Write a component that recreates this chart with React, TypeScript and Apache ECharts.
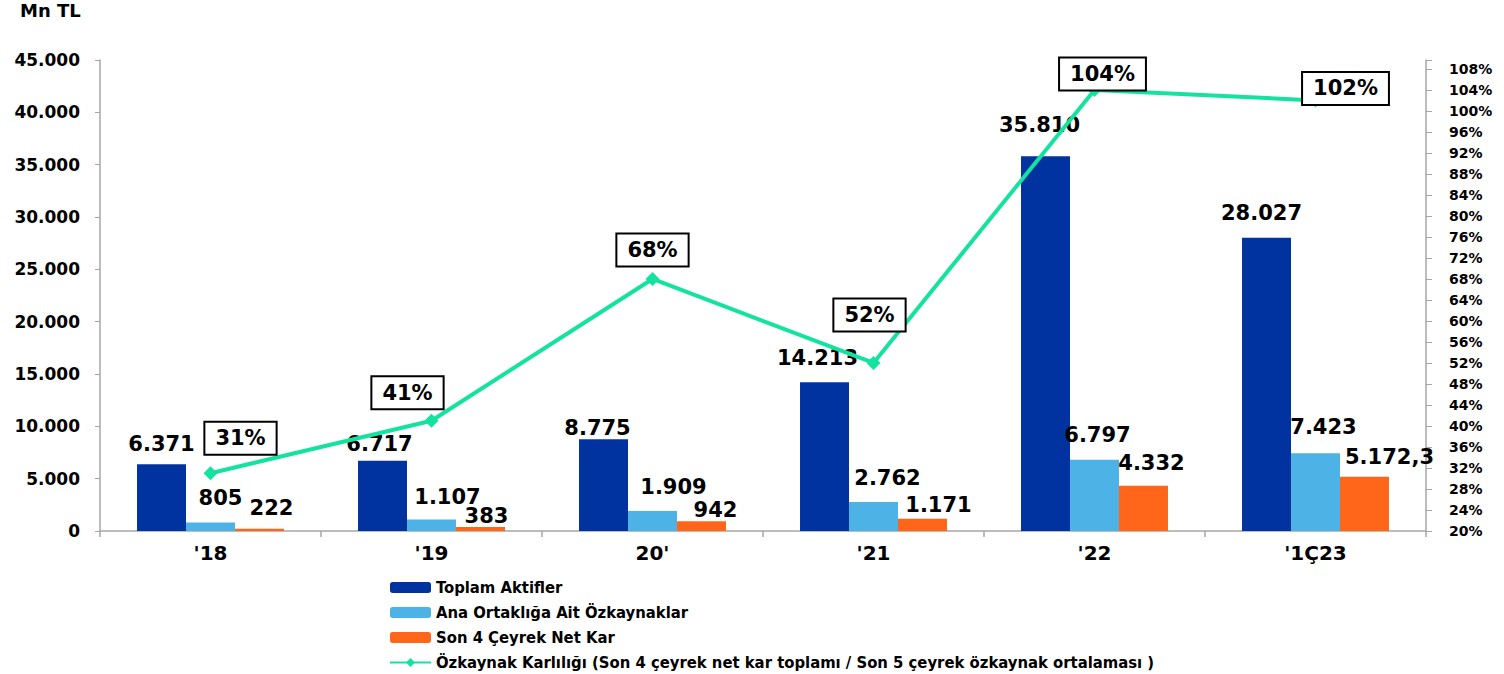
import React, { useEffect, useRef } from "react";
import * as echarts from "echarts";

const categories = ["'18", "'19", "20'", "'21", "'22", "'1Ç23"];
const toplamAktifler = [6371, 6717, 8775, 14213, 35810, 28027];
const anaOrtaklik = [805, 1107, 1909, 2762, 6797, 7423];
const netKar = [222, 383, 942, 1171, 4332, 5172.3];
const ozkaynakKarliligi = [31, 41, 68, 52, 104, 102];

const seriesNames = [
  "Toplam Aktifler",
  "Ana Ortaklığa Ait Özkaynaklar",
  "Son 4 Çeyrek Net Kar",
  "Özkaynak Karlılığı (Son 4 çeyrek net kar toplamı / Son 5 çeyrek özkaynak ortalaması )",
];

// label placement tweaks (pixels)
const darkOffsets = [[0, -5], [-3, -1], [-6, 4], [-7, -9], [-6, -16], [-5, -9]];
const lightOffsets = [[10, -9], [16, -7], [21, -9], [14, -9], [3, -9], [8, -11]];
const orangeOffsets = [[12, -5], [6, 5], [14, 4], [16, 2], [8, -7], [25, -4]];
const lineOffsets = [[30, -35], [-24, -28], [0, -29], [-4, -48], [8, -16], [30, -12]];

const FONT = "DejaVu Sans";
const NARROW = "DejaVu Sans Condensed, DejaVu Sans";

function fmtTR(v: number): string {
  const s = String(v);
  const [i, d] = s.split(".");
  const int = i.replace(/\B(?=(\d{3})+(?!\d))/g, ".");
  return d ? int + "," + d : int;
}

const axisGray = "#A6A6A6";

export default function App() {
  const ref = useRef<HTMLDivElement>(null);
  useEffect(() => {
    if (!ref.current) return;
    const chart = echarts.init(ref.current, undefined, { renderer: "svg" });
    const barLabel = {
      show: true,
      position: "top" as const,
      distance: 5,
      fontSize: 21,
      fontWeight: "bold" as const,
      color: "#000",
      fontFamily: FONT,
      formatter: (p: any) => fmtTR(p.value),
    };
    const mk = (vals: number[], offs: number[][]) =>
      vals.map((v, i) => ({ value: v, label: { offset: offs[i] } }));
    chart.setOption({
      animation: false,
      backgroundColor: "#fff",
      textStyle: { fontFamily: FONT },
      title: {
        text: "Mn TL",
        left: 20,
        top: 1,
        padding: [0, 0, 0, 0],
        textStyle: { fontSize: 18, fontWeight: "bold", color: "#000", fontFamily: FONT },
      },
      grid: { left: 100, right: 78, top: 60, bottom: 143 },
      legend: {
        orient: "vertical",
        left: 389,
        top: 579,
        height: 110,
        padding: 0,
        itemWidth: 41,
        itemHeight: 11,
        itemGap: 8,
        textStyle: { fontSize: 16.5, fontWeight: "bold", color: "#000", fontFamily: NARROW },
        data: seriesNames,
      },
      xAxis: {
        type: "category",
        data: categories,
        axisLine: { lineStyle: { color: axisGray, width: 1.5 } },
        axisTick: { show: true, length: 6, lineStyle: { color: axisGray, width: 1.5 } },
        axisLabel: { fontSize: 20, fontWeight: "bold", color: "#000", margin: 12, fontFamily: FONT },
      },
      yAxis: [
        {
          type: "value",
          min: 0,
          max: 45000,
          interval: 5000,
          axisLine: { show: true, lineStyle: { color: axisGray, width: 1.5 } },
          axisTick: { show: true, length: 5, lineStyle: { color: axisGray } },
          splitLine: { show: false },
          axisLabel: {
            fontSize: 17,
            fontWeight: "bold",
            color: "#000",
            margin: 20,
            fontFamily: FONT,
            formatter: (v: number) => fmtTR(v),
          },
        },
        {
          type: "value",
          position: "right",
          min: 20,
          max: 109.7,
          interval: 4,
          axisLine: { show: true, lineStyle: { color: axisGray, width: 1.5 } },
          axisTick: { show: true, length: 6, lineStyle: { color: axisGray } },
          splitLine: { show: false },
          axisLabel: {
            fontSize: 14,
            fontWeight: "bold",
            color: "#000",
            margin: 23,
            fontFamily: FONT,
            formatter: (v: number) => (Math.abs(v % 4) < 1e-6 ? v + "%" : ""),
          },
        },
      ],
      series: [
        {
          name: seriesNames[0],
          type: "bar",
          barGap: "0%",
          barCategoryGap: "33.5%",
          itemStyle: { color: "#0033A0" },
          label: barLabel,
          data: mk(toplamAktifler, darkOffsets),
        },
        {
          name: seriesNames[1],
          type: "bar",
          barGap: "0%",
          barCategoryGap: "33.5%",
          itemStyle: { color: "#4DB3E6" },
          label: barLabel,
          data: mk(anaOrtaklik, lightOffsets),
        },
        {
          name: seriesNames[2],
          type: "bar",
          barGap: "0%",
          barCategoryGap: "33.5%",
          itemStyle: { color: "#FF661A" },
          label: barLabel,
          data: mk(netKar, orangeOffsets),
        },
        {
          name: seriesNames[3],
          type: "line",
          yAxisIndex: 1,
          symbol: "diamond",
          symbolSize: 14,
          lineStyle: { color: "#14E3A0", width: 4 },
          itemStyle: { color: "#14E3A0" },
          z: 5,
          label: {
            show: true,
            position: "inside",
            formatter: (p: any) => p.value + "%",
            fontSize: 21,
            fontWeight: "bold",
            color: "#000",
            fontFamily: FONT,
            backgroundColor: "#fff",
            borderColor: "#000",
            borderWidth: 2,
            padding: [5, 10],
          },
          data: mk(ozkaynakKarliligi, lineOffsets),
        },
      ],
    });
    return () => chart.dispose();
  }, []);
  return (
    <div
      ref={ref}
      style={{ position: "fixed", left: 0, top: 0, width: 1504, height: 674 }}
    />
  );
}
